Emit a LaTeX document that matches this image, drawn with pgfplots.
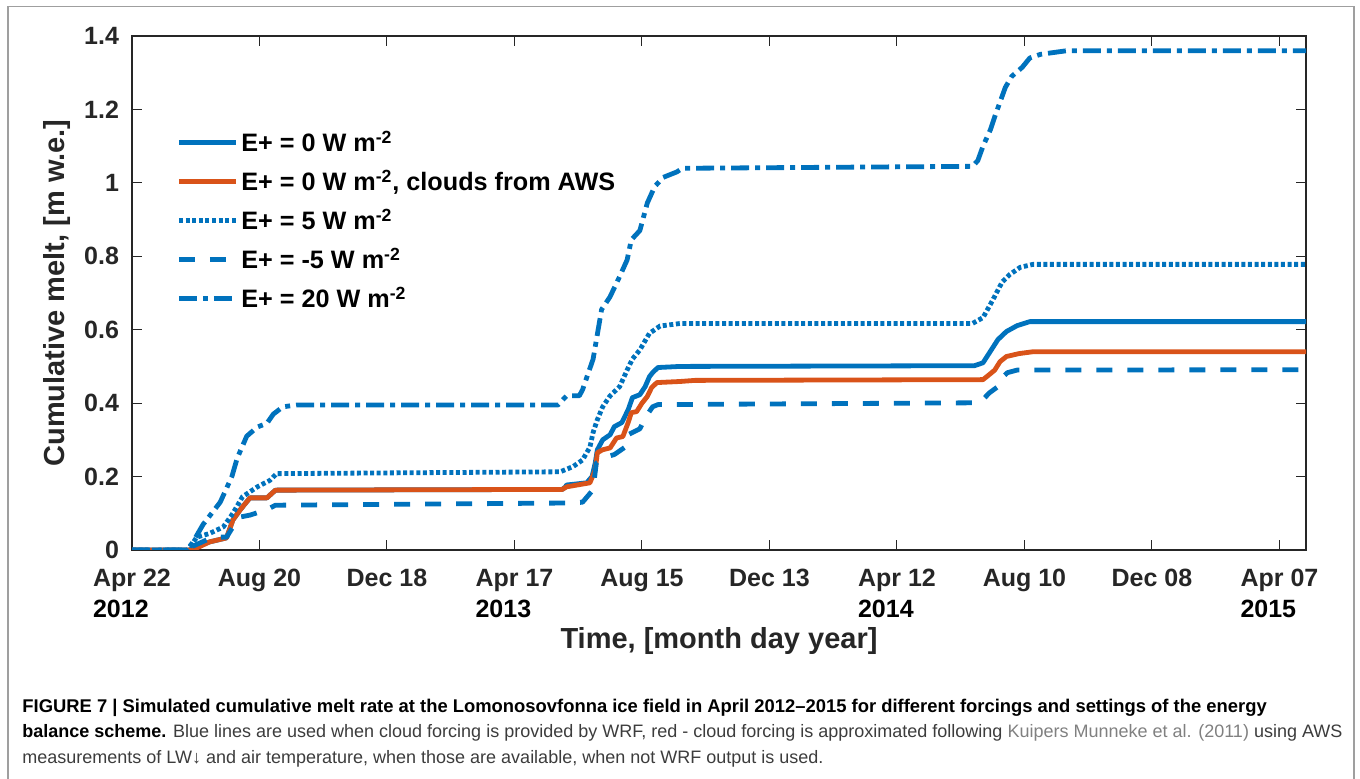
\documentclass[border=0pt]{standalone}
\usepackage{pgfplots}
\pgfplotsset{compat=1.18}
\usepackage{fontspec}
\setmainfont{Liberation Sans}
\newfontfamily\capfont{Liberation Sans}
\definecolor{mblue}{RGB}{0,114,189}
\definecolor{mred}{RGB}{217,83,25}
\definecolor{axgray}{RGB}{38,38,38}
\definecolor{captxt}{RGB}{60,60,60}

% x = days since Apr 22 2012
\pgfplotstableread{
d v
0 0
54 0
57 0.005
73 0.022
89 0.033
95 0.082
102 0.11
111 0.142
127 0.142
135 0.163
405 0.165
408 0.172
409 0.177
428 0.183
433 0.2
436 0.237
438 0.273
443 0.3
450 0.314
454 0.336
461 0.347
467 0.382
471 0.415
478 0.423
483 0.445
487 0.472
490 0.483
495 0.497
516 0.5
793 0.502
801 0.51
807 0.537
815 0.573
823 0.595
833 0.611
845 0.622
1105 0.622
}\ezero

\pgfplotstableread{
d v
0 0
57 0
73 0.022
89 0.033
95 0.082
102 0.11
111 0.142
127 0.142
135 0.163
405 0.165
409 0.172
431 0.183
436 0.218
438 0.265
443 0.273
450 0.278
456 0.305
462 0.309
467 0.347
470 0.374
475 0.377
480 0.4
485 0.418
489 0.442
494 0.456
516 0.459
530 0.462
801 0.464
807 0.478
812 0.49
817 0.513
823 0.527
835 0.535
848 0.54
1105 0.54
}\eaws

\pgfplotstableread{
d v
0 0
52 0
55 0.01
61 0.035
73 0.045
86 0.063
95 0.1
104 0.145
118 0.172
130 0.19
136 0.208
403 0.213
415 0.227
424 0.245
431 0.28
434 0.32
438 0.355
443 0.39
450 0.42
459 0.445
466 0.49
471 0.52
478 0.545
487 0.59
497 0.61
516 0.617
791 0.617
801 0.633
810 0.68
819 0.73
826 0.75
836 0.77
848 0.778
1105 0.778
}\efive

\pgfplotstableread{
d v
0 0
55 0
57 0.01
76 0.035
89 0.035
95 0.063
102 0.09
111 0.095
127 0.11
135 0.122
410 0.128
424 0.13
434 0.164
437 0.237
447 0.254
454 0.26
464 0.28
467 0.314
478 0.33
483 0.36
490 0.39
495 0.396
798 0.401
807 0.428
815 0.445
817 0.464
824 0.483
833 0.49
1105 0.491
}\emfive

\pgfplotstableread{
d v
0 0
50 0
53 0.005
57 0.02
67 0.07
83 0.13
94 0.2
99 0.25
108 0.31
118 0.335
127 0.345
133 0.37
142 0.39
155 0.395
401 0.395
409 0.42
421 0.42
424 0.436
434 0.52
442 0.655
450 0.69
459 0.745
466 0.79
470 0.845
478 0.87
485 0.945
492 0.99
500 1.015
513 1.03
518 1.04
535 1.04
791 1.045
796 1.06
801 1.10
808 1.145
812 1.18
817 1.22
822 1.26
828 1.29
838 1.315
845 1.34
855 1.35
880 1.36
1105 1.36
}\etwenty

\begin{document}
\begin{tikzpicture}
\useasboundingbox (0,0) rectangle (680pt,-389.5pt);
\draw[gray!75, line width=0.8pt] (4pt,-392pt) -- (4pt,-3.25pt) -- (677pt,-3.25pt) -- (677pt,-392pt);

\begin{axis}[
  at={(66pt,-275pt)}, anchor=south west,
  scale only axis, width=587pt, height=257pt,
  xmin=0, xmax=1105, ymin=0, ymax=1.4,
  xtick={0,120,240,360,480,600,720,840,960,1080},
  xticklabels={{Apr 22\\\textcolor{black}{2012}}, Aug 20, Dec 18, {Apr 17\\\textcolor{black}{2013}}, Aug 15, Dec 13, {Apr 12\\\textcolor{black}{2014}}, Aug 10, Dec 08, {Apr 07\\\textcolor{black}{2015}}},
  ytick={0,0.2,0.4,0.6,0.8,1,1.2,1.4},
  /pgf/number format/assume math mode=true,
  tick label style={font=\fontsize{12.5}{15.5}\selectfont\bfseries, text=axgray},
  xticklabel style={align=left, yshift=-6pt},
  yticklabel style={xshift=-3pt},
  tick align=inside, major tick length=5pt,
  tick style={axgray, line width=0.5pt},
  axis line style={axgray, line width=0.6pt},
  xlabel={Time, [month day year]},
  ylabel={Cumulative melt, [m w.e.]},
  label style={font=\fontsize{14.5}{17}\selectfont\bfseries, text=axgray},
  xlabel style={yshift=2pt},
  legend cell align=left,
  legend style={draw=none, fill=none, at={(0.0325,0.83)}, anchor=north west,
    font=\fontsize{12.6}{14}\selectfont\bfseries, row sep=4.5pt, nodes={inner sep=1.5pt}},
  legend image code/.code={\draw[#1] (0pt,0pt) -- (28.5pt,0pt);},
  every axis plot/.append style={line width=2.4pt, line cap=butt, line join=round},
]
\addplot[mblue] table[x=d,y=v] {\ezero};
\addlegendentry{E+ = 0 W m\textsuperscript{-2}}
\addplot[mred] table[x=d,y=v] {\eaws};
\addlegendentry{E+ = 0 W m\textsuperscript{-2}, clouds from AWS}
\addplot[mblue, dash pattern=on 2pt off 1.3pt] table[x=d,y=v] {\efive};
\addlegendentry{E+ = 5 W m\textsuperscript{-2}}
\addplot[mblue, dash pattern=on 8pt off 7.5pt] table[x=d,y=v] {\emfive};
\addlegendentry{E+ = -5 W m\textsuperscript{-2}}
\addplot[mblue, dash pattern=on 9pt off 3pt on 2.5pt off 3pt] table[x=d,y=v] {\etwenty};
\addlegendentry{E+ = 20 W m\textsuperscript{-2}}
\end{axis}

\begin{scope}[x=0.5pt, y=-0.5pt]
\node[anchor=base west, inner sep=0, text=black, font=\capfont\fontsize{9.2}{11}\selectfont\bfseries] at (22,713)
  {FIGURE 7 | Simulated cumulative melt rate at the Lomonosovfonna ice field in April 2012–2015 for different forcings and settings of the energy};
\node[anchor=base west, inner sep=0, text=captxt, font=\capfont\fontsize{9}{11}\selectfont] at (22,738)
  {\textcolor{black}{\bfseries balance scheme.} Blue lines are used when cloud forcing is provided by WRF, red - cloud forcing is approximated following \textcolor{gray}{Kuipers Munneke et al. (2011)} using AWS};
\node[anchor=base west, inner sep=0, text=captxt, font=\capfont\fontsize{9}{11}\selectfont] at (22,763)
  {measurements of LW↓ and air temperature, when those are available, when not WRF output is used.};
\end{scope}
\end{tikzpicture}
\end{document}
